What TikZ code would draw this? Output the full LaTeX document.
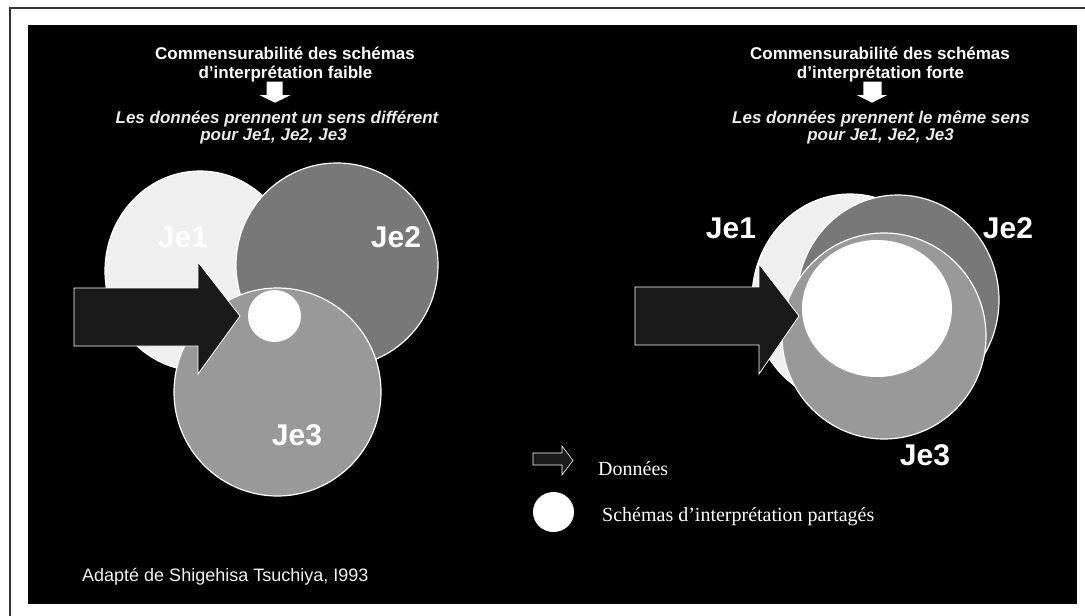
\documentclass[tikz,border=0pt]{standalone}
\usepackage{fontspec}
\newfontfamily\arialfont{Liberation Sans}
\newfontfamily\timesfont{Liberation Serif}
\definecolor{jeone}{HTML}{EFEFEF}
\definecolor{jetwo}{HTML}{787878}
\definecolor{jethree}{HTML}{999999}
\definecolor{datafill}{HTML}{1A1A1A}
\definecolor{framegray}{HTML}{333333}
\tikzset{
  disc/.style={draw=white, line width=1.2pt},
  dataarrow/.style={fill=datafill, draw=white, line width=0.8pt, line join=miter},
  titletxt/.style={text=white, font=\arialfont\bfseries\fontsize{17}{19}\selectfont, anchor=base, inner sep=0pt},
  subtxt/.style={text=white!92!black, font=\arialfont\bfseries\itshape\fontsize{17}{19}\selectfont, anchor=base, inner sep=0pt},
  jelabel/.style={text=white, font=\arialfont\bfseries\fontsize{30}{32}\selectfont, anchor=base, inner sep=0pt},
  legendtxt/.style={text=white, font=\timesfont\fontsize{20}{22}\selectfont, anchor=base west, inner sep=0pt},
}
\begin{document}
\begin{tikzpicture}[x=1pt, y=-1pt]
\useasboundingbox (0,0) rectangle (1085,616);
% page frame and dark panel
\fill[white] (0,0) rectangle (1085,616);
\draw[framegray, line width=1.6pt] (10,616) -- (10,8) -- (1085,8);
\fill[black] (28,25) rectangle (1077,604);

% ---------- left: weak commensurability ----------
\node[titletxt] (lt1) at (285,59.5) {Commensurabilité des schémas};
\node[titletxt] (lt2) at (285.5,78.5) {d’interprétation faible};
\fill[white] (266.7,81.7) -- (282.7,81.7) -- (282.7,95) -- (290.7,95) -- (275,102.7)
  -- (259.3,95) -- (266.7,95) -- cycle;
\node[subtxt] (ls1) at (277,123) {Les données prennent un sens différent};
\node[subtxt] (ls2) at (273.5,140) {pour Je1, Je2, Je3};

\draw[disc, fill=jeone]   (200,271) ellipse [x radius=95, y radius=100];
\draw[disc, fill=jetwo]   (337,265) ellipse [x radius=101, y radius=102];
\draw[disc, fill=jethree] (277.5,392) ellipse [x radius=103.5, y radius=104];
\draw[dataarrow] (74,288) -- (198,288) -- (198,262) -- (240,316) -- (198,374)
  -- (198,346) -- (74,346) -- cycle;
\fill[white] (274.5,316) ellipse [x radius=26.5, y radius=26];
\node[jelabel, text=white!97!jeone] (lj1) at (183,247) {Je1};
\node[jelabel] (lj2) at (396,247) {Je2};
\node[jelabel] (lj3) at (297,445) {Je3};

% ---------- right: strong commensurability ----------
\node[titletxt] (rt1) at (880,59.5) {Commensurabilité des schémas};
\node[titletxt] (rt2) at (880.5,78.5) {d’interprétation forte};
\fill[white] (863.3,81.7) -- (881.7,81.7) -- (881.7,95) -- (887.3,95) -- (872,102.7)
  -- (856.7,95) -- (863.3,95) -- cycle;
\node[subtxt] (rs1) at (881,123) {Les données prennent le même sens};
\node[subtxt] (rs2) at (880.5,140) {pour Je1, Je2, Je3};

\draw[disc, fill=jeone]   (850,299) ellipse [x radius=98, y radius=105];
\draw[disc, fill=jetwo]   (898,300) ellipse [x radius=101, y radius=105];
\draw[disc, fill=jethree] (884,336) ellipse [x radius=102, y radius=103];
\fill[white] (877,308.5) ellipse [x radius=75, y radius=68.5];
\draw[dataarrow] (635,287) -- (759,287) -- (759,264) -- (799,316) -- (759,374)
  -- (759,345) -- (635,345) -- cycle;
\node[jelabel] (rj1) at (731,238) {Je1};
\node[jelabel] (rj2) at (1008,238) {Je2};
\node[jelabel] (rj3) at (925,465) {Je3};

% ---------- legend ----------
\draw[dataarrow, line width=0.6pt] (533,453) -- (562,453) -- (562,446) -- (573,460.5)
  -- (562,475) -- (562,465) -- (533,465) -- cycle;
\node[legendtxt] (lgd) at (598,475) {Données};
\fill[white] (553.5,512) ellipse [x radius=20.5, y radius=20];
\node[legendtxt] (lgs) at (602,521.5) {Schémas d’interprétation partagés};

% ---------- source ----------
\node[text=white!95!black, font=\arialfont\fontsize{18}{20}\selectfont, anchor=base west, inner sep=0pt]
  (src) at (82,581.5) {Adapté de Shigehisa Tsuchiya, I993};
\end{tikzpicture}
\end{document}
